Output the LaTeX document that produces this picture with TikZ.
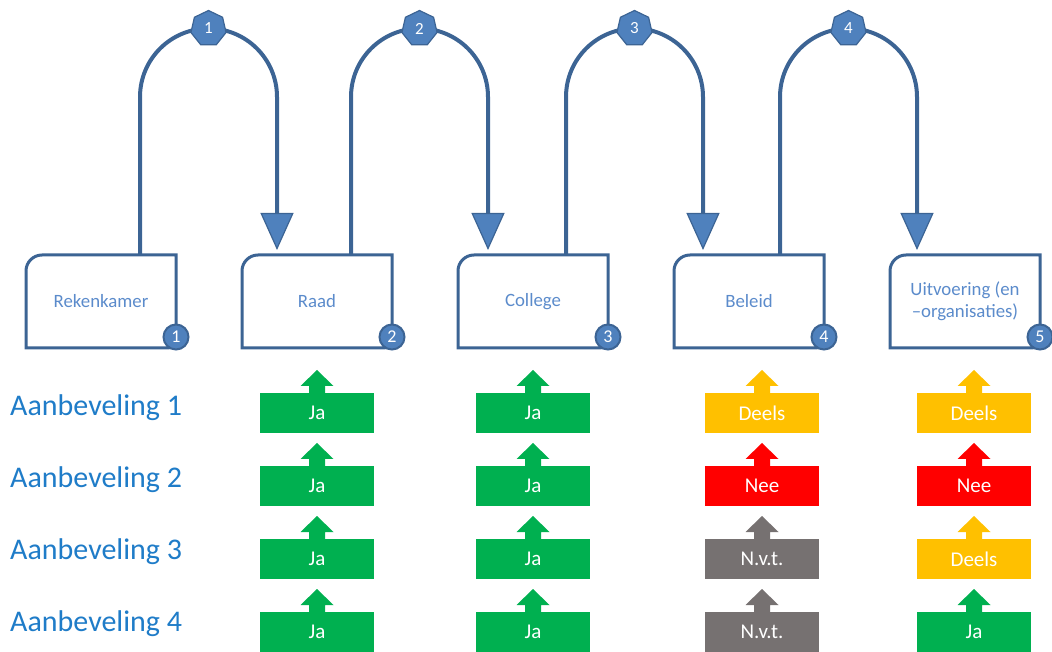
\documentclass[tikz,border=0pt]{standalone}
\usepackage{fontspec}
\setmainfont{Carlito}
\usetikzlibrary{positioning,shapes.geometric,arrows.meta}

\definecolor{loopblue}{HTML}{3C6494}
\definecolor{badgefill}{HTML}{4F81BD}
\definecolor{stagetext}{HTML}{5B8BCB}
\definecolor{rowblue}{HTML}{1F7CC8}
\definecolor{jacol}{HTML}{00B050}
\definecolor{deelscol}{HTML}{FFC000}
\definecolor{neecol}{HTML}{FF0000}
\definecolor{nvtcol}{HTML}{767171}

\begin{document}
\begin{tikzpicture}[
    x=1pt, y=1pt,
    node distance=66pt,
    stage/.style={minimum width=150pt, minimum height=93pt, inner sep=0pt, outer sep=0pt, align=center, text=stagetext, font=\fontsize{18.8}{22}\selectfont},
    outline/.style={draw=loopblue, line width=3pt},
    loopline/.style={draw=loopblue, line width=4pt, -{Triangle[width=33pt,length=37pt,fill=badgefill,line width=1.2pt]}},
    stepnr/.style={regular polygon, regular polygon sides=7, minimum size=36pt, inner sep=0pt, fill=badgefill, draw=loopblue, line width=1.2pt, text=white, font=\fontsize{17}{17}\selectfont},
    stagenr/.style={circle, minimum size=25pt, inner sep=0pt, fill=badgefill, draw=loopblue, line width=2pt, text=white, font=\fontsize{18}{18}\selectfont},
    status/.style={minimum width=114pt, minimum height=40pt, inner sep=0pt, outer sep=0pt, fill=#1, text=white, font=\fontsize{21}{21}\selectfont},
    rowlabel/.style={anchor=west, inner sep=0pt, text=rowblue, font=\fontsize{30}{32}\selectfont},
]
    \useasboundingbox (0,0) rectangle (1052,651);

    % Stages
    \node[stage] (rekenkamer) at (101,349.5) {Rekenkamer};
    \node[stage, right=of rekenkamer] (raad) {Raad};
    \node[stage, right=of raad] (college) {College};
    \node[stage, right=of college] (beleid) {Beleid};
    \node[stage, right=of beleid] (uitvoering) {Uitvoering (en\\--organisaties)};

    \foreach \s in {rekenkamer,raad,college,beleid,uitvoering}
        \draw[outline] (\s.south west) -- ([yshift=-16pt]\s.north west) arc[start angle=180, end angle=90, radius=16pt]
            -- (\s.north east) -- ([yshift=8pt]\s.south east) arc[start angle=0, end angle=-90, radius=8pt] -- cycle;

    % Loops between stages
    \draw[loopline] ([xshift=114pt]rekenkamer.north west) -- ++(0,158) coordinate (bend1)
        arc[start angle=180, end angle=0, radius=68.5pt] -- ([xshift=35pt,yshift=5pt]raad.north west);
    \draw[loopline] ([xshift=109pt]raad.north west) -- ++(0,158) coordinate (bend2)
        arc[start angle=180, end angle=0, radius=68.5pt] -- ([xshift=30pt,yshift=5pt]college.north west);
    \draw[loopline] ([xshift=108pt]college.north west) -- ++(0,158) coordinate (bend3)
        arc[start angle=180, end angle=0, radius=68.5pt] -- ([xshift=29pt,yshift=5pt]beleid.north west);
    \draw[loopline] ([xshift=106pt]beleid.north west) -- ++(0,158) coordinate (bend4)
        arc[start angle=180, end angle=0, radius=68.5pt] -- ([xshift=27pt,yshift=5pt]uitvoering.north west);

    \node[stepnr] (step1) at ([shift={(68.5,68.5)}]bend1) {1};
    \node[stepnr] (step2) at ([shift={(68.5,68.5)}]bend2) {2};
    \node[stepnr] (step3) at ([shift={(68.5,68.5)}]bend3) {3};
    \node[stepnr] (step4) at ([shift={(68.5,68.5)}]bend4) {4};

    % Stage numbers
    \node[stagenr] (nr1) at ([yshift=11pt]rekenkamer.south east) {1};
    \node[stagenr] (nr2) at ([yshift=11pt]raad.south east) {2};
    \node[stagenr] (nr3) at ([yshift=11pt]college.south east) {3};
    \node[stagenr] (nr4) at ([yshift=11pt]beleid.south east) {4};
    \node[stagenr] (nr5) at ([yshift=11pt]uitvoering.south east) {5};

    % Row labels
    \node[rowlabel] (aanb1) at (10,243) {Aanbeveling 1};
    \node[rowlabel] (aanb2) at (10,171) {Aanbeveling 2};
    \node[rowlabel] (aanb3) at (10,99) {Aanbeveling 3};
    \node[rowlabel] (aanb4) at (10,27) {Aanbeveling 4};

    % Raad
    \node[status=jacol, below=45pt of raad] (raad1) {Ja};
    \node[status=jacol, below=33pt of raad1] (raad2) {Ja};
    \node[status=jacol, below=33pt of raad2] (raad3) {Ja};
    \node[status=jacol, below=33pt of raad3] (raad4) {Ja};

    % College
    \node[status=jacol, below=45pt of college] (coll1) {Ja};
    \node[status=jacol, below=33pt of coll1] (coll2) {Ja};
    \node[status=jacol, below=33pt of coll2] (coll3) {Ja};
    \node[status=jacol, below=33pt of coll3] (coll4) {Ja};

    % Beleid
    \node[status=deelscol, below=45pt of beleid, xshift=13pt] (bel1) {Deels};
    \node[status=neecol, below=33pt of bel1] (bel2) {Nee};
    \node[status=nvtcol, below=33pt of bel2] (bel3) {N.v.t.};
    \node[status=nvtcol, below=33pt of bel3] (bel4) {N.v.t.};

    % Uitvoering
    \node[status=deelscol, below=45pt of uitvoering, xshift=9pt] (uit1) {Deels};
    \node[status=neecol, below=33pt of uit1] (uit2) {Nee};
    \node[status=deelscol, below=33pt of uit2] (uit3) {Deels};
    \node[status=jacol, below=33pt of uit3] (uit4) {Ja};

    % Up arrows on the status blocks
    \foreach \n/\c in {raad1/jacol, raad2/jacol, raad3/jacol, raad4/jacol,
                       coll1/jacol, coll2/jacol, coll3/jacol, coll4/jacol,
                       bel1/deelscol, bel2/neecol, bel3/nvtcol, bel4/nvtcol,
                       uit1/deelscol, uit2/neecol, uit3/deelscol, uit4/jacol}
        \fill[fill=\c] ([xshift=-8pt]\n.north) -- ++(0,7) -- ++(-8.5,0) -- ++(16.5,16)
            -- ++(16.5,-16) -- ++(-8.5,0) -- ++(0,-7) -- cycle;
\end{tikzpicture}
\end{document}
